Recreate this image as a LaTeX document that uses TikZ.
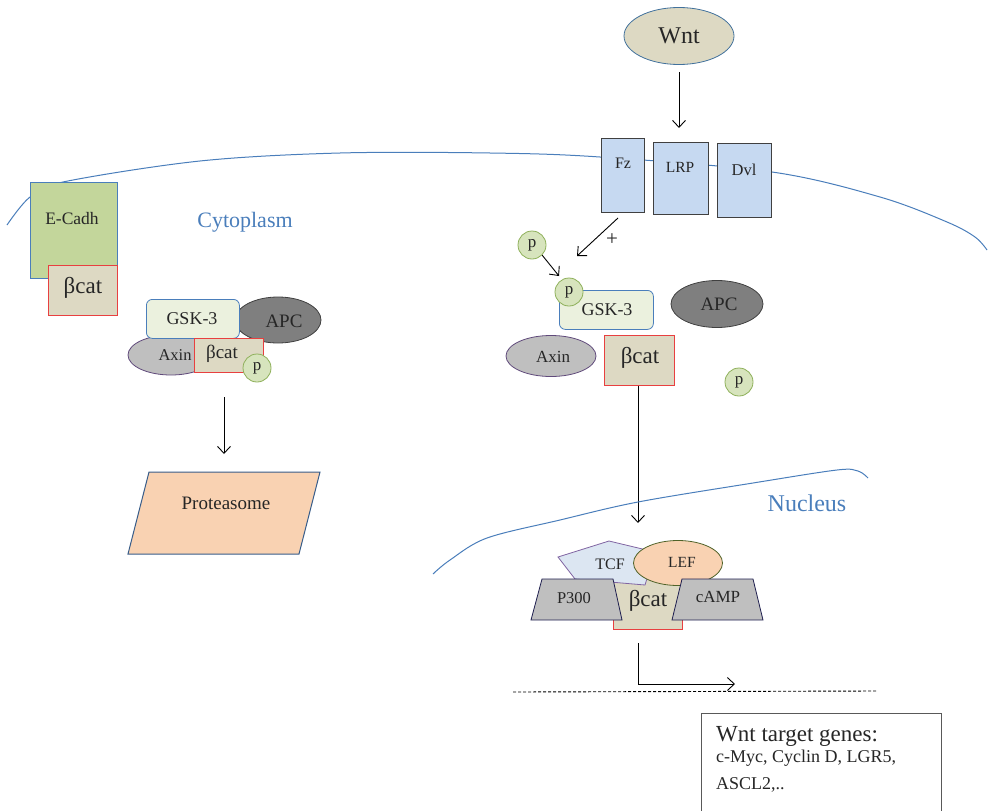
\documentclass[tikz,border=0pt]{standalone}
\usepackage{fontspec}
\setmainfont{Liberation Serif}
\usetikzlibrary{shapes.geometric,arrows.meta}
\definecolor{memb}{HTML}{4A7EBB}
\definecolor{txt}{HTML}{262626}
\definecolor{beige}{HTML}{DDD9C3}
\definecolor{wntedge}{HTML}{41719C}
\definecolor{recfill}{HTML}{C6D9F1}
\definecolor{recedge}{HTML}{404040}
\definecolor{ecfill}{HTML}{C3D69B}
\definecolor{gskfill}{HTML}{EBF1DE}
\definecolor{apcfill}{HTML}{7F7F7F}
\definecolor{axfill}{HTML}{BFBFBF}
\definecolor{axedge}{HTML}{604A7B}
\definecolor{pfill}{HTML}{D7E4BD}
\definecolor{pedge}{HTML}{8EB05A}
\definecolor{peach}{HTML}{F9D2B2}
\definecolor{protedge}{HTML}{385D8A}
\definecolor{tcffill}{HTML}{DCE6F2}
\definecolor{tcfedge}{HTML}{8064A2}
\definecolor{lefedge}{HTML}{4F6228}
\definecolor{trapedge}{HTML}{1F1F4F}
\definecolor{bred}{HTML}{E84040}
\definecolor{boxedge}{HTML}{595959}
\newcommand{\fs}[1]{\fontsize{#1}{#1}\selectfont}
\tikzset{
  lbl/.style={inner sep=0pt, text=txt},
  bluelbl/.style={inner sep=0pt, text=memb},
  pcirc/.style={circle, draw=pedge, fill=pfill, minimum size=28, inner sep=0pt, line width=0.8pt, text=txt, font=\fs{17}},
  bcatbox/.style={draw=bred, fill=beige, line width=0.8pt, inner sep=0pt, anchor=north west},
  recbox/.style={draw=recedge, fill=recfill, line width=0.9pt, inner sep=0pt, anchor=north west},
  arr/.style={-{Straight Barb[length=7pt,width=13pt]}, line width=0.9pt, draw=black},
  thin/.style={line width=0.8pt},
}
\begin{document}
\begin{tikzpicture}[x=1pt,y=-1pt]
\useasboundingbox (0,0) rectangle (988,811);

% cell membrane
\draw[memb, line width=1pt] plot[smooth, tension=0.55] coordinates {(7,225) (30,197) (63,182) (200,161) (340,153) (490,153) (600,157) (772,172) (880,197) (947,222) (975,237) (987,250)};

% Wnt
\node[ellipse, draw=wntedge, fill=beige, thin, minimum width=110, minimum height=57, inner sep=0pt, text=txt, font=\fs{24}] (wnt) at (679,36) {Wnt};
\coordinate (wntA) at (679,72);
\coordinate (wntB) at (679,128);
\draw[arr] (wntA) -- (wntB);

% receptors
\node[recbox, minimum width=43, minimum height=74] (fz) at (601,138) {};
\node[recbox, minimum width=55, minimum height=72] (lrp) at (653,142) {};
\node[recbox, minimum width=54, minimum height=74] (dvl) at (717,143) {};
\node[lbl, font=\fs{16}] (fzt) at (623,163) {Fz};
\node[lbl, font=\fs{15.5}] (lrpt) at (680,167) {LRP};
\node[lbl, font=\fs{16.5}] (dvlt) at (744,170) {Dvl};

% E-Cadherin
\node[draw=memb, fill=ecfill, thin, minimum width=87, minimum height=96, inner sep=0pt, anchor=north west] (ecad) at (30,182) {};
\node[lbl, font=\fs{17.5}] (ecadt) at (72,219) {E-Cadh};
\node[bcatbox, minimum width=69, minimum height=50] (bc1) at (48,265) {};
\node[lbl, font=\fs{23}] (bc1t) at (83,288) {βcat};

% Cytoplasm label
\node[bluelbl, font=\fs{22}] (cyto) at (245,222) {Cytoplasm};

% left destruction complex
\node[ellipse, draw=recedge, fill=apcfill, thin, minimum width=86, minimum height=46, inner sep=0pt] (apc1) at (278,320) {};
\node[lbl, font=\fs{19}] (apc1t) at (284,321) {APC};
\node[ellipse, draw=axedge, fill=axfill, thin, minimum width=86, minimum height=40, inner sep=0pt] (ax1) at (171,355) {};
\node[lbl, font=\fs{16.5}] (ax1t) at (175,355) {Axin};
\node[rounded corners=6pt, draw=memb, fill=gskfill, thin, minimum width=93, minimum height=39, inner sep=0pt, anchor=north west] (gsk1) at (146,299) {};
\node[lbl, font=\fs{18}] (gsk1t) at (192,319) {GSK-3};
\node[bcatbox, minimum width=69, minimum height=34] (bc2) at (194,338) {};
\node[lbl, font=\fs{19}] (bc2t) at (222,354) {βcat};
\node[pcirc] (p1) at (257,368) {p};

% to proteasome
\coordinate (degA) at (224,397);
\coordinate (degB) at (224,454);
\draw[arr] (degA) -- (degB);
\draw[draw=protedge, fill=peach, line width=1pt] (149,472) -- (320,472) -- (299,554) -- (128,554) -- cycle;
\node[lbl, font=\fs{19}] (prot) at (226,503) {Proteasome};

% right side (Wnt on)
\coordinate (fzA) at (618,218);
\coordinate (fzB) at (577,256);
\draw[arr] (fzA) -- (fzB);
\node[lbl, font=\fs{21}] (plus) at (612,240) {+};
\node[pcirc] (p2) at (532,245) {p};
\coordinate (pB) at (559,276);
\draw[arr] (p2.south east) -- (pB);
\node[rounded corners=6pt, draw=memb, fill=gskfill, thin, minimum width=94, minimum height=39, inner sep=0pt, anchor=north west] (gsk2) at (559,290) {};
\node[lbl, font=\fs{18}] (gsk2t) at (607,310) {GSK-3};
\node[pcirc] (p3) at (569,292) {p};
\node[ellipse, draw=recedge, fill=apcfill, thin, minimum width=92, minimum height=47, inner sep=0pt] (apc2) at (717,304) {};
\node[lbl, font=\fs{19}] (apc2t) at (719,304) {APC};
\node[ellipse, draw=axedge, fill=axfill, thin, minimum width=90, minimum height=41, inner sep=0pt] (ax2) at (551,356) {};
\node[lbl, font=\fs{17}] (ax2t) at (553,357) {Axin};
\node[bcatbox, minimum width=70, minimum height=50] (bc3) at (604,335) {};
\node[lbl, font=\fs{23}] (bc3t) at (640,358) {βcat};
\node[pcirc] (p4) at (739,382) {p};

% to nucleus
\coordinate (nucB) at (638,523);
\draw[arr] (bc3.south -| nucB) -- (nucB);

% nucleus membrane
\draw[memb, line width=1pt] plot[smooth, tension=0.55] coordinates {(433,574) (450,560) (487,538) (560,520) (638,502) (753,483) (837,470) (858,471) (868,478)};
\node[bluelbl, font=\fs{24}] (nuc) at (807,503) {Nucleus};

% transcription complex
\node[bcatbox, minimum width=69, minimum height=52] (bc4) at (613,577) {};
\draw[draw=tcfedge, fill=tcffill, thin] (558,557) -- (609,541) -- (655,552) -- (645,585) -- (575,579) -- cycle;
\node[lbl, font=\fs{16}] (tcf) at (610,564) {TCF};
\node[ellipse, draw=lefedge, fill=peach, thin, minimum width=89, minimum height=45, inner sep=0pt] (lef) at (678,563) {};
\node[lbl, font=\fs{15.5}] (left) at (682,562) {LEF};
\draw[draw=trapedge, fill=axfill, thin] (542,579) -- (613,579) -- (622,620) -- (531,620) -- cycle;
\node[lbl, font=\fs{16.5}] (p300) at (574,598) {P300};
\draw[draw=trapedge, fill=axfill, thin] (682,579) -- (753,579) -- (763,620) -- (672,620) -- cycle;
\node[lbl, font=\fs{17}] (camp) at (718,597) {cAMP};
\node[lbl, font=\fs{23}] (bc4t) at (648,601) {βcat};

% transcription
\coordinate (tss) at (638,643);
\coordinate (tse) at (735,684);
\draw[arr] (tss) |- (tse);
\coordinate (dnaA) at (513,692);
\coordinate (dnaB) at (876,691);
\draw[dashed, line width=0.9pt, dash pattern=on 3pt off 2pt] (dnaA) -- (dnaB);

% target genes box
\draw[draw=boxedge, line width=1pt] (701,830) -- (701,713) -- (941,713) -- (941,830);
\node[lbl, anchor=base west, font=\fs{23}] (tg1) at (716,741) {Wnt target genes:};
\node[lbl, anchor=base west, font=\fs{18}] (tg2) at (716,762) {c-Myc, Cyclin D, LGR5,};
\node[lbl, anchor=base west, font=\fs{18}] (tg3) at (716,789) {ASCL2,..};
\end{tikzpicture}
\end{document}
